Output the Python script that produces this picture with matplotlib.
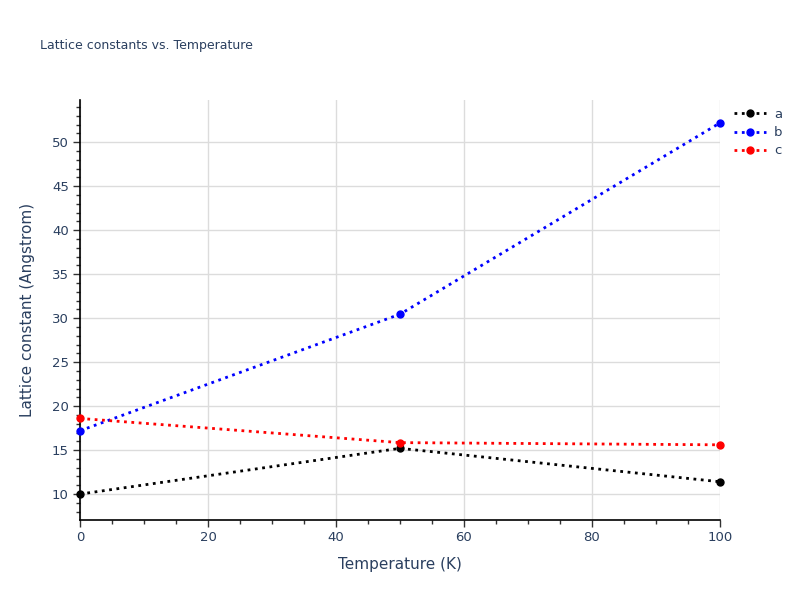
import matplotlib.pyplot as plt
from matplotlib.ticker import MultipleLocator

# datos
temperature = [0, 50, 100]
lattice_a = [10.0, 15.2, 11.4]
lattice_b = [17.2, 30.45, 52.2]
lattice_c = [18.6, 15.85, 15.6]

series = [('a', lattice_a, 'black'), ('b', lattice_b, 'blue'), ('c', lattice_c, 'red')]
text_color = '#2a3f5f'

fig = plt.figure(figsize=(8, 6), dpi=100)
ax = fig.add_axes([0.1, 0.1333, 0.8, 0.7])

for name, vals, col in series:
    ax.plot(temperature, vals, linestyle=':', linewidth=2, color=col,
            marker='o', markersize=5, label=name, clip_on=False, zorder=3)

ax.set_xlim(0, 100)
ax.set_ylim(7.05, 54.8)
ax.xaxis.set_major_locator(MultipleLocator(20))
ax.xaxis.set_minor_locator(MultipleLocator(5))
ax.yaxis.set_minor_locator(MultipleLocator(1))
ax.set_yticks([10, 15, 20, 25, 30, 35, 40, 45, 50])

ax.grid(True, which='major', color='#dcdcdc', linewidth=1)
ax.set_axisbelow(True)
for s in ['top', 'right']:
    ax.spines[s].set_visible(False)
for s in ['left', 'bottom']:
    ax.spines[s].set_color('black')
    ax.spines[s].set_linewidth(1.2)

ax.tick_params(which='major', length=5, width=1, color='#333333', labelsize=9.5,
               labelcolor=text_color, pad=3)
ax.tick_params(which='minor', length=3, width=1, color='#333333')

ax.set_xlabel('Temperature (K)', fontsize=11, color=text_color, labelpad=9)
ax.set_ylabel('Lattice constant (Angstrom)', fontsize=11, color=text_color, labelpad=12)

fig.text(0.05, 0.925, 'Lattice constants vs. Temperature', fontsize=9,
         color=text_color, va='center')

ax.legend(loc='upper left', bbox_to_anchor=(1.01, 1.0), frameon=False,
          fontsize=9.5, labelcolor=text_color, handlelength=2.4,
          handletextpad=0.6, borderaxespad=0.2, labelspacing=0.4)

fig.savefig('out.png', dpi=100)
